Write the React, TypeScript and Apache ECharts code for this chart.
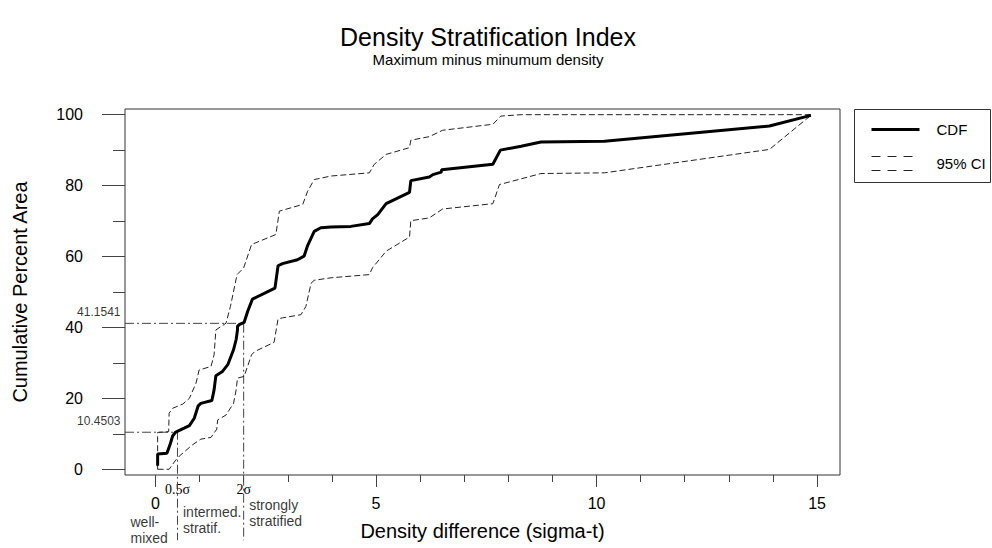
import React, { useEffect, useRef } from "react";
import * as echarts from "echarts";

// ---- Data ----
const CDF_X = [0.05, 0.05, 0.26, 0.33, 0.39, 0.46, 0.65, 0.77, 0.88, 0.97, 1.03, 1.28, 1.33, 1.37, 1.52, 1.64, 1.77, 1.83, 1.86, 1.86, 1.9, 2.01, 2.09, 2.2, 2.71, 2.78, 2.88, 3.22, 3.37, 3.45, 3.6, 3.75, 3.98, 4.43, 4.85, 4.92, 5.04, 5.23, 5.76, 5.79, 6.21, 6.29, 6.48, 6.49, 7.65, 7.82, 8.29, 8.74, 10.18, 13.92, 14.86];
const CDF_Y = [1.0, 4.3, 4.5, 6.9, 9.4, 10.5, 11.6, 12.3, 14.4, 17.9, 18.6, 19.4, 22.4, 26.4, 27.6, 29.5, 33.7, 36.6, 39.3, 40.3, 40.8, 41.4, 44.5, 48.0, 51.1, 57.4, 58.0, 59.1, 60.1, 63.1, 67.1, 68.1, 68.3, 68.5, 69.3, 70.6, 71.8, 74.9, 78.1, 81.4, 82.4, 83.1, 83.8, 84.5, 86.0, 90.0, 91.1, 92.3, 92.5, 96.8, 99.8];

const UPPER_X = [0.05, 0.05, 0.3, 0.31, 0.39, 0.62, 0.77, 0.92, 0.99, 1.26, 1.33, 1.37, 1.6, 1.7, 1.85, 2.0, 2.18, 2.73, 2.81, 3.34, 3.45, 3.6, 3.98, 4.85, 4.96, 5.23, 5.76, 5.79, 6.21, 6.51, 7.65, 7.83, 8.29, 14.86];
const UPPER_Y = [0, 10.4, 10.6, 15.8, 17.2, 18.4, 20.0, 24.3, 28.0, 29.0, 32.3, 39.3, 41.2, 45.9, 54.9, 56.8, 63.4, 66.2, 72.8, 74.7, 78.4, 81.7, 82.7, 83.6, 86.0, 88.8, 90.7, 92.8, 93.8, 95.6, 97.3, 99.6, 100, 100];

const LOWER_X = [0.05, 0.31, 0.46, 0.54, 0.84, 1.03, 1.26, 1.39, 1.41, 1.6, 1.77, 1.83, 1.86, 2.01, 2.18, 2.25, 2.69, 2.78, 2.88, 3.3, 3.41, 3.53, 3.6, 3.98, 4.85, 4.92, 5.23, 5.76, 5.79, 6.21, 6.51, 7.65, 7.8, 8.29, 8.74, 10.18, 13.92, 14.86];
const LOWER_Y = [0, 0, 2.6, 3.7, 6.9, 8.5, 9.0, 11.3, 13.9, 15.3, 18.6, 22.4, 25.7, 26.2, 32.3, 33.2, 35.8, 42.4, 42.7, 43.6, 45.9, 52.5, 53.3, 54.0, 54.9, 56.8, 61.5, 65.5, 70.1, 70.9, 73.4, 74.9, 80.3, 81.9, 83.4, 83.6, 90.2, 99.8];

const SIGMA_THRESHOLDS = [0.5, 2];
const SIGMA_LABELS = ["0.5σ", "2σ"];
const THRESHOLD_CDF = [10.4503, 41.1541];
const REGION_LABELS = ["well-\nmixed", "intermed.\nstratif.", "strongly\nstratified"];

const X_MAJOR_TICKS = [0, 5, 10, 15];
const X_MINOR_TICKS = [0, 1, 2, 3, 4, 5, 6, 7, 8, 9, 10, 11, 12, 13, 14, 15];
const Y_MAJOR_TICKS = [0, 20, 40, 60, 80, 100];
const Y_MINOR_TICKS = [0, 10, 20, 30, 40, 50, 60, 70, 80, 90, 100];

const TITLE = "Density Stratification Index";
const SUBTITLE = "Maximum minus minumum density";
const X_NAME = "Density difference (sigma-t)";
const Y_NAME = "Cumulative Percent Area";
const SERIES_NAMES = ["CDF", "95% CI"];

// ---- Layout constants ----
const X_MIN = -0.69;
const X_MAX = 15.52;
const Y_MIN = -1.61;
const Y_MAX = 101.6;
const BELOW_AXIS_Y = -20;
const REGION_LABEL_Y = [-17.1, -14.3, -12.4];
const FONT = "'Liberation Sans', Arial, sans-serif";
const SERIF = "'Liberation Serif', 'Times New Roman', serif";

const zip = (xs: number[], ys: number[]) => xs.map((x, i) => [x, ys[i]]);

function buildOption(): any {
  const baseX = {
    type: "value",
    min: X_MIN,
    max: X_MAX,
    position: "bottom",
    splitLine: { show: false },
    axisLine: { show: false, onZero: false },
    axisTick: { show: false },
    axisLabel: { show: false },
  };
  const baseY = {
    type: "value",
    min: Y_MIN,
    max: Y_MAX,
    position: "left",
    splitLine: { show: false },
    axisLine: { show: false, onZero: false },
    axisTick: { show: false },
    axisLabel: { show: false },
  };
  const tickStyle = { color: "#444", width: 1 };

  const thresholdSeries = SIGMA_THRESHOLDS.map((t, i) => ({
    type: "line",
    name: "threshold" + i,
    xAxisIndex: 0,
    yAxisIndex: 0,
    clip: false,
    symbol: "none",
    silent: true,
    lineStyle: { color: "#444", width: 1, type: [9, 3, 2, 3] },
    data: [
      [X_MIN, THRESHOLD_CDF[i]],
      [t, THRESHOLD_CDF[i]],
      [t, BELOW_AXIS_Y],
    ],
    z: 1,
  }));

  return {
    animation: false,
    backgroundColor: "#fff",
    textStyle: { fontFamily: FONT, color: "#000" },
    title: [
      {
        text: TITLE,
        left: 483,
        top: 19,
        textAlign: "center",
        textStyle: { fontFamily: FONT, fontSize: 25, fontWeight: "normal", color: "#000" },
      },
      {
        text: SUBTITLE,
        left: 483,
        top: 47,
        textAlign: "center",
        textStyle: { fontFamily: FONT, fontSize: 15, fontWeight: "normal", color: "#000" },
      },
    ],
    grid: {
      left: 125,
      top: 109,
      right: 152,
      bottom: 73,
      show: true,
      borderColor: "#333",
      borderWidth: 1,
      backgroundColor: "transparent",
    },
    xAxis: [
      {
        ...baseX,
        axisTick: { show: true, customValues: X_MINOR_TICKS, length: 7, lineStyle: tickStyle },
      },
      {
        ...baseX,
        axisTick: { show: true, customValues: X_MAJOR_TICKS, length: 12, lineStyle: tickStyle },
        axisLabel: {
          show: true,
          customValues: X_MAJOR_TICKS,
          margin: 20,
          fontSize: 16,
          color: "#000",
          fontFamily: FONT,
        },
        name: X_NAME,
        nameLocation: "middle",
        nameGap: 46,
        nameTextStyle: { fontSize: 20, color: "#000", fontFamily: FONT },
      },
      {
        ...baseX,
        axisLabel: {
          show: true,
          customValues: SIGMA_THRESHOLDS,
          margin: 7,
          fontSize: 14,
          color: "#000",
          fontFamily: SERIF,
          formatter: (v: number) => SIGMA_LABELS[SIGMA_THRESHOLDS.indexOf(v)] ?? "",
        },
      },
    ],
    yAxis: [
      {
        ...baseY,
        axisTick: { show: true, customValues: Y_MINOR_TICKS, length: 12, lineStyle: tickStyle },
      },
      {
        ...baseY,
        axisTick: { show: true, customValues: Y_MAJOR_TICKS, length: 23, lineStyle: tickStyle },
        axisLabel: {
          show: true,
          customValues: Y_MAJOR_TICKS,
          margin: 42,
          fontSize: 16,
          color: "#000",
          fontFamily: FONT,
        },
        name: Y_NAME,
        nameLocation: "middle",
        nameGap: 95,
        nameTextStyle: { fontSize: 20, color: "#000", fontFamily: FONT },
      },
    ],
    series: [
      ...thresholdSeries,
      {
        type: "scatter",
        name: "threshold values",
        xAxisIndex: 0,
        yAxisIndex: 0,
        clip: false,
        silent: true,
        symbolSize: 1,
        itemStyle: { color: "rgba(0,0,0,0)" },
        label: {
          show: true,
          position: "left",
          distance: 4,
          offset: [0, -11],
          fontSize: 12,
          color: "#000",
          fontFamily: FONT,
          formatter: (p: any) => String(p.value[1]),
        },
        data: THRESHOLD_CDF.map((v) => [X_MIN, v]),
      },
      {
        type: "scatter",
        name: "regions",
        xAxisIndex: 0,
        yAxisIndex: 0,
        clip: false,
        silent: true,
        symbolSize: 1,
        itemStyle: { color: "rgba(0,0,0,0)" },
        label: {
          show: true,
          position: "right",
          distance: 5,
          fontSize: 14,
          lineHeight: 16,
          color: "#000",
          fontFamily: FONT,
          formatter: (p: any) => REGION_LABELS[p.dataIndex],
        },
        data: [X_MIN, ...SIGMA_THRESHOLDS].map((x, i) => [x, REGION_LABEL_Y[i]]),
      },
      {
        type: "line",
        name: SERIES_NAMES[1],
        xAxisIndex: 0,
        yAxisIndex: 0,
        symbol: "none",
        lineStyle: { color: "#222", width: 1, type: [6, 3] },
        data: zip(UPPER_X, UPPER_Y),
        z: 2,
      },
      {
        type: "line",
        name: SERIES_NAMES[1] + " lower",
        xAxisIndex: 0,
        yAxisIndex: 0,
        symbol: "none",
        lineStyle: { color: "#222", width: 1, type: [6, 3] },
        data: zip(LOWER_X, LOWER_Y),
        z: 2,
      },
      {
        type: "line",
        name: SERIES_NAMES[0],
        xAxisIndex: 0,
        yAxisIndex: 0,
        symbol: "none",
        lineStyle: { color: "#000", width: 3 },
        data: zip(CDF_X, CDF_Y),
        z: 3,
      },
    ],
    graphic: [
      {
        type: "group",
        left: 854,
        top: 109,
        children: [
          {
            type: "rect",
            shape: { x: 0, y: 0, width: 136, height: 73 },
            style: { fill: "#fff", stroke: "#333", lineWidth: 1 },
          },
          {
            type: "line",
            shape: { x1: 17, y1: 20, x2: 65, y2: 20 },
            style: { stroke: "#000", lineWidth: 3 },
          },
          {
            type: "text",
            x: 82,
            y: 20,
            style: { text: SERIES_NAMES[0], fontSize: 15, fontFamily: FONT, fill: "#000", verticalAlign: "middle" },
          },
          {
            type: "line",
            shape: { x1: 17, y1: 47, x2: 59, y2: 47 },
            style: { stroke: "#222", lineWidth: 1, lineDash: [9, 7] },
          },
          {
            type: "line",
            shape: { x1: 17, y1: 61, x2: 59, y2: 61 },
            style: { stroke: "#222", lineWidth: 1, lineDash: [9, 7] },
          },
          {
            type: "text",
            x: 82,
            y: 54,
            style: { text: SERIES_NAMES[1], fontSize: 15, fontFamily: FONT, fill: "#000", verticalAlign: "middle" },
          },
        ],
      },
    ],
  };
}

export default function App() {
  const ref = useRef<HTMLDivElement>(null);
  useEffect(() => {
    if (!ref.current) return;
    const chart = echarts.init(ref.current, null, { renderer: "svg" });
    chart.setOption(buildOption());
    return () => chart.dispose();
  }, []);
  return (
    <div
      ref={ref}
      style={{ position: "fixed", left: 0, top: 0, width: 992, height: 548, background: "#fff" }}
    />
  );
}
